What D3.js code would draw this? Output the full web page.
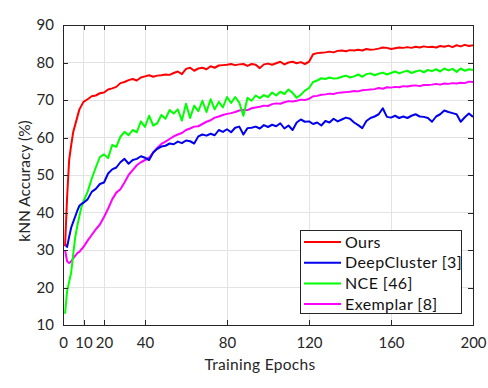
<!DOCTYPE html>
<html lang="en">
<head>
    <meta charset="UTF-8">
    <title>kNN Accuracy vs Training Epochs</title>
    <script src="https://d3js.org/d3.v7.min.js"></script>
    <style>
        body {
            margin: 0;
            padding: 0;
            background-color: #fff;
            font-family: Lato, "Open Sans", sans-serif;
        }

        .axis text {
            font-family: Lato, "Open Sans", sans-serif;
            font-size: 15px;
            fill: #262626;
        }

        .axis path,
        .axis line {
            stroke: #262626;
            shape-rendering: crispEdges;
        }

        .grid line {
            stroke: #e3e3e3;
            shape-rendering: crispEdges;
        }

        .series {
            fill: none;
            stroke-width: 2;
            stroke-linejoin: round;
        }
    </style>
</head>
<body>
<svg id="chart"></svg>

<script>
    // epochs: every epoch for the first 10, then every 2
    const epochs = [1, 2, 3, 4, 5, 6, 7, 8, 9, 10].concat(d3.range(12, 201, 2));

    const ours = [31, 44, 54, 58, 61.5, 63.5, 65.5, 67.5, 68.5, 69.5,
        70.2, 71, 71.2, 71.8, 72, 72.8, 73.1, 73.5, 74.5, 74.8,
        75.3, 75.6, 75.2, 76, 76.3, 76.6, 76.2, 76.5, 76.6, 76.8,
        76.7, 77.2, 77.6, 76.9, 78.3, 78.6, 77.8, 78.4, 78.6, 78.2,
        79, 78.6, 79.2, 79.3, 79.4, 79.6, 79.3, 79.5, 79.6, 79.1,
        79.6, 79.4, 78.5, 79.5, 79.7, 79.4, 79.8, 80.2, 79.5, 80,
        80.2, 79.8, 80.1, 79.6, 80.2, 82.2, 82.5, 82.6, 82.7, 82.9,
        82.7, 83.1, 83.2, 83, 83.3, 83.2, 83.4, 83.2, 83.6, 83.4,
        83.5, 83.7, 84, 83.9, 83.6, 83.8, 84, 83.9, 84.1, 83.9,
        84.2, 84, 84.3, 84.1, 84.2, 84, 84.4, 84.2, 84.5, 84.1,
        84.6, 84.3, 84.7, 84.4, 84.6];

    const deepCluster = [31.5, 30.8, 33.5, 36, 37.5, 39, 40.5, 41.8, 42.3, 42.6,
        43.5, 45.5, 46.3, 47.6, 48, 50.4, 51.5, 52, 53.4, 54.3,
        53, 54, 54.3, 55, 54.6, 54, 56, 57, 57.6, 57.8,
        58.4, 58.2, 58.9, 58.5, 59.2, 59, 58.4, 60.3, 60.8, 60.5,
        61, 60.6, 62, 61.5, 62.2, 61.4, 62.6, 62.9, 60.8, 62.5,
        62.6, 62.9, 62.4, 63.3, 62.8, 63.4, 63, 63.8, 62.4, 63.2,
        62, 64, 64.8, 64.2, 64.3, 63.6, 64, 63.2, 64.4, 64,
        65, 64.3, 64.8, 65.3, 65, 64, 63.3, 62.5, 64.4, 65.2,
        65.6, 66.2, 67.8, 65.5, 65.3, 65.8, 65.2, 65.6, 65.2, 65.8,
        66.2, 65.6, 65.5, 65.2, 64.2, 65.6, 66.2, 67.2, 66.8, 66.5,
        66.2, 64.2, 65.4, 66.4, 65.5];

    const nce = [13, 19, 21.5, 24, 29, 33.5, 36.5, 39, 41.5, 43,
        45.5, 49, 52, 54.8, 55.5, 54.5, 58, 57.5, 60.2, 61.5,
        60.6, 62, 61.4, 64.3, 62.8, 65.8, 63.2, 63.8, 66, 65,
        67.3, 66.4, 67.5, 64.5, 69, 65.2, 68.5, 67, 69.8, 66.8,
        70.2, 67.5, 69.5, 68, 70.8, 69.2, 70.8, 69.3, 65.8, 70.6,
        69.8, 71.2, 70.5, 71.3, 70.8, 72, 71.2, 72.2, 71.6, 72.8,
        71.9, 70.6, 71.4, 72.5, 73.2, 74.8, 75.2, 75.8, 75.6, 76,
        75.7, 75.8, 76.2, 76.5, 76, 76.3, 76.8, 76.2, 76.9, 77.1,
        76.6, 77, 77.3, 76.8, 77.2, 77.6, 77.1, 77.5, 77.8, 77.2,
        77.6, 77.9, 77.4, 78, 77.7, 78.2, 77.6, 78.4, 77.9, 78.3,
        77.5, 78.4, 77.8, 78.2, 78];

    const exemplar = [30, 27, 26.5, 27, 27.8, 28.5, 29.2, 29.5, 30.2, 30.8,
        32.5, 34, 35.5, 36.8, 38.8, 41, 43.5, 45.3, 46.2, 48,
        50, 51.3, 52.6, 53.4, 54, 54.6, 56, 57.2, 58.3, 58.9,
        59.6, 60.3, 60.8, 61.2, 62, 62.4, 62.9, 63, 63.6, 64.2,
        64.6, 65.3, 65.6, 66, 66.3, 66.5, 66.8, 67.2, 67.4, 67.3,
        67.8, 68, 68.2, 68.5, 68.4, 68.9, 69.1, 69, 69.4, 69.7,
        69.6, 69.8, 70.1, 70, 70.3, 71, 71.1, 71.4, 71.5, 71.7,
        71.6, 71.9, 72, 72.1, 72.2, 72.4, 72.3, 72.6, 72.7, 72.8,
        72.9, 73.2, 73, 73.4, 73.3, 73.5, 73.4, 73.7, 73.6, 73.8,
        73.9, 73.7, 74, 74, 74.1, 74.3, 74.1, 74.4, 74.3, 74.5,
        74.4, 74.6, 74.5, 74.9, 74.8];

    const seriesNames = ["Ours", "DeepCluster [3]", "NCE [46]", "Exemplar [8]"];
    const seriesColors = ["#ff0000", "#0000ee", "#00ff00", "#ff00ff"];
    const seriesValues = [ours, deepCluster, nce, exemplar];

    const xTicks = [0, 10, 20, 40, 80, 120, 160, 200];
    const yTicks = [10, 20, 30, 40, 50, 60, 70, 80, 90];

    const width = 488;
    const height = 388;
    const margin = { top: 25, right: 15, bottom: 63, left: 63 };

    const svg = d3.select("#chart")
        .attr("width", width)
        .attr("height", height);

    const x = d3.scaleLinear()
        .domain([0, 200])
        .range([margin.left, width - margin.right]);

    const y = d3.scaleLinear()
        .domain([10, 90])
        .range([height - margin.bottom, margin.top]);

    // grid
    const grid = svg.append("g").attr("class", "grid");
    grid.selectAll(".gx")
        .data(xTicks)
        .join("line")
        .attr("x1", d => x(d)).attr("x2", d => x(d))
        .attr("y1", margin.top).attr("y2", height - margin.bottom);
    grid.selectAll(".gy")
        .data(yTicks)
        .join("line")
        .attr("class", "gy")
        .attr("x1", margin.left).attr("x2", width - margin.right)
        .attr("y1", d => y(d)).attr("y2", d => y(d));

    // lines (drawn bottom-up so red ends on top)
    const line = d3.line()
        .x((d, i) => x(epochs[i]))
        .y(d => y(d));

    const order = [3, 2, 1, 0];
    svg.append("g")
        .selectAll("path")
        .data(order)
        .join("path")
        .attr("class", "series")
        .attr("stroke", i => seriesColors[i])
        .attr("d", i => line(seriesValues[i]));

    // axes, box style with inward ticks
    const tickLen = 5;
    svg.append("g")
        .attr("class", "axis")
        .attr("transform", `translate(0,${height - margin.bottom})`)
        .call(d3.axisBottom(x).tickValues(xTicks).tickSizeInner(-tickLen).tickSizeOuter(0).tickPadding(10))
        .call(g => g.selectAll("text").attr("dy", "0.85em"));

    svg.append("g")
        .attr("class", "axis")
        .attr("transform", `translate(${margin.left},0)`)
        .call(d3.axisLeft(y).tickValues(yTicks).tickSizeInner(-tickLen).tickSizeOuter(0).tickPadding(9));

    svg.append("g")
        .attr("class", "axis")
        .attr("transform", `translate(0,${margin.top})`)
        .call(d3.axisTop(x).tickValues(xTicks).tickSizeInner(-tickLen).tickSizeOuter(0).tickFormat(""));

    svg.append("g")
        .attr("class", "axis")
        .attr("transform", `translate(${width - margin.right},0)`)
        .call(d3.axisRight(y).tickValues(yTicks).tickSizeInner(-tickLen).tickSizeOuter(0).tickFormat(""));

    // axis titles
    svg.append("text")
        .attr("x", 260)
        .attr("y", 370)
        .attr("text-anchor", "middle")
        .style("font-size", "15.5px")
        .style("letter-spacing", "0.3px")
        .style("fill", "#262626")
        .text("Training Epochs");

    svg.append("text")
        .attr("transform", `translate(25,181) rotate(-90)`)
        .attr("text-anchor", "middle")
        .attr("dy", "0.35em")
        .style("font-size", "15.5px")
        .style("fill", "#262626")
        .text("kNN Accuracy (%)");

    // legend
    const legend = svg.append("g").attr("transform", "translate(300,230)");
    legend.append("rect")
        .attr("width", 161)
        .attr("height", 83)
        .attr("fill", "#fff")
        .attr("stroke", "#262626")
        .attr("stroke-width", 1)
        .attr("shape-rendering", "crispEdges");

    const items = legend.selectAll(".item")
        .data(seriesNames)
        .join("g")
        .attr("class", "item")
        .attr("transform", (d, i) => `translate(0,${12 + i * 20.7})`);

    items.append("line")
        .attr("x1", 4).attr("x2", 41)
        .attr("stroke", (d, i) => seriesColors[i])
        .attr("stroke-width", 2);

    items.append("text")
        .attr("x", 45)
        .attr("dy", "0.35em")
        .style("font-size", "16px")
        .style("letter-spacing", "0.4px")
        .style("fill", "#111")
        .text(d => d);
</script>

</body>
</html>
